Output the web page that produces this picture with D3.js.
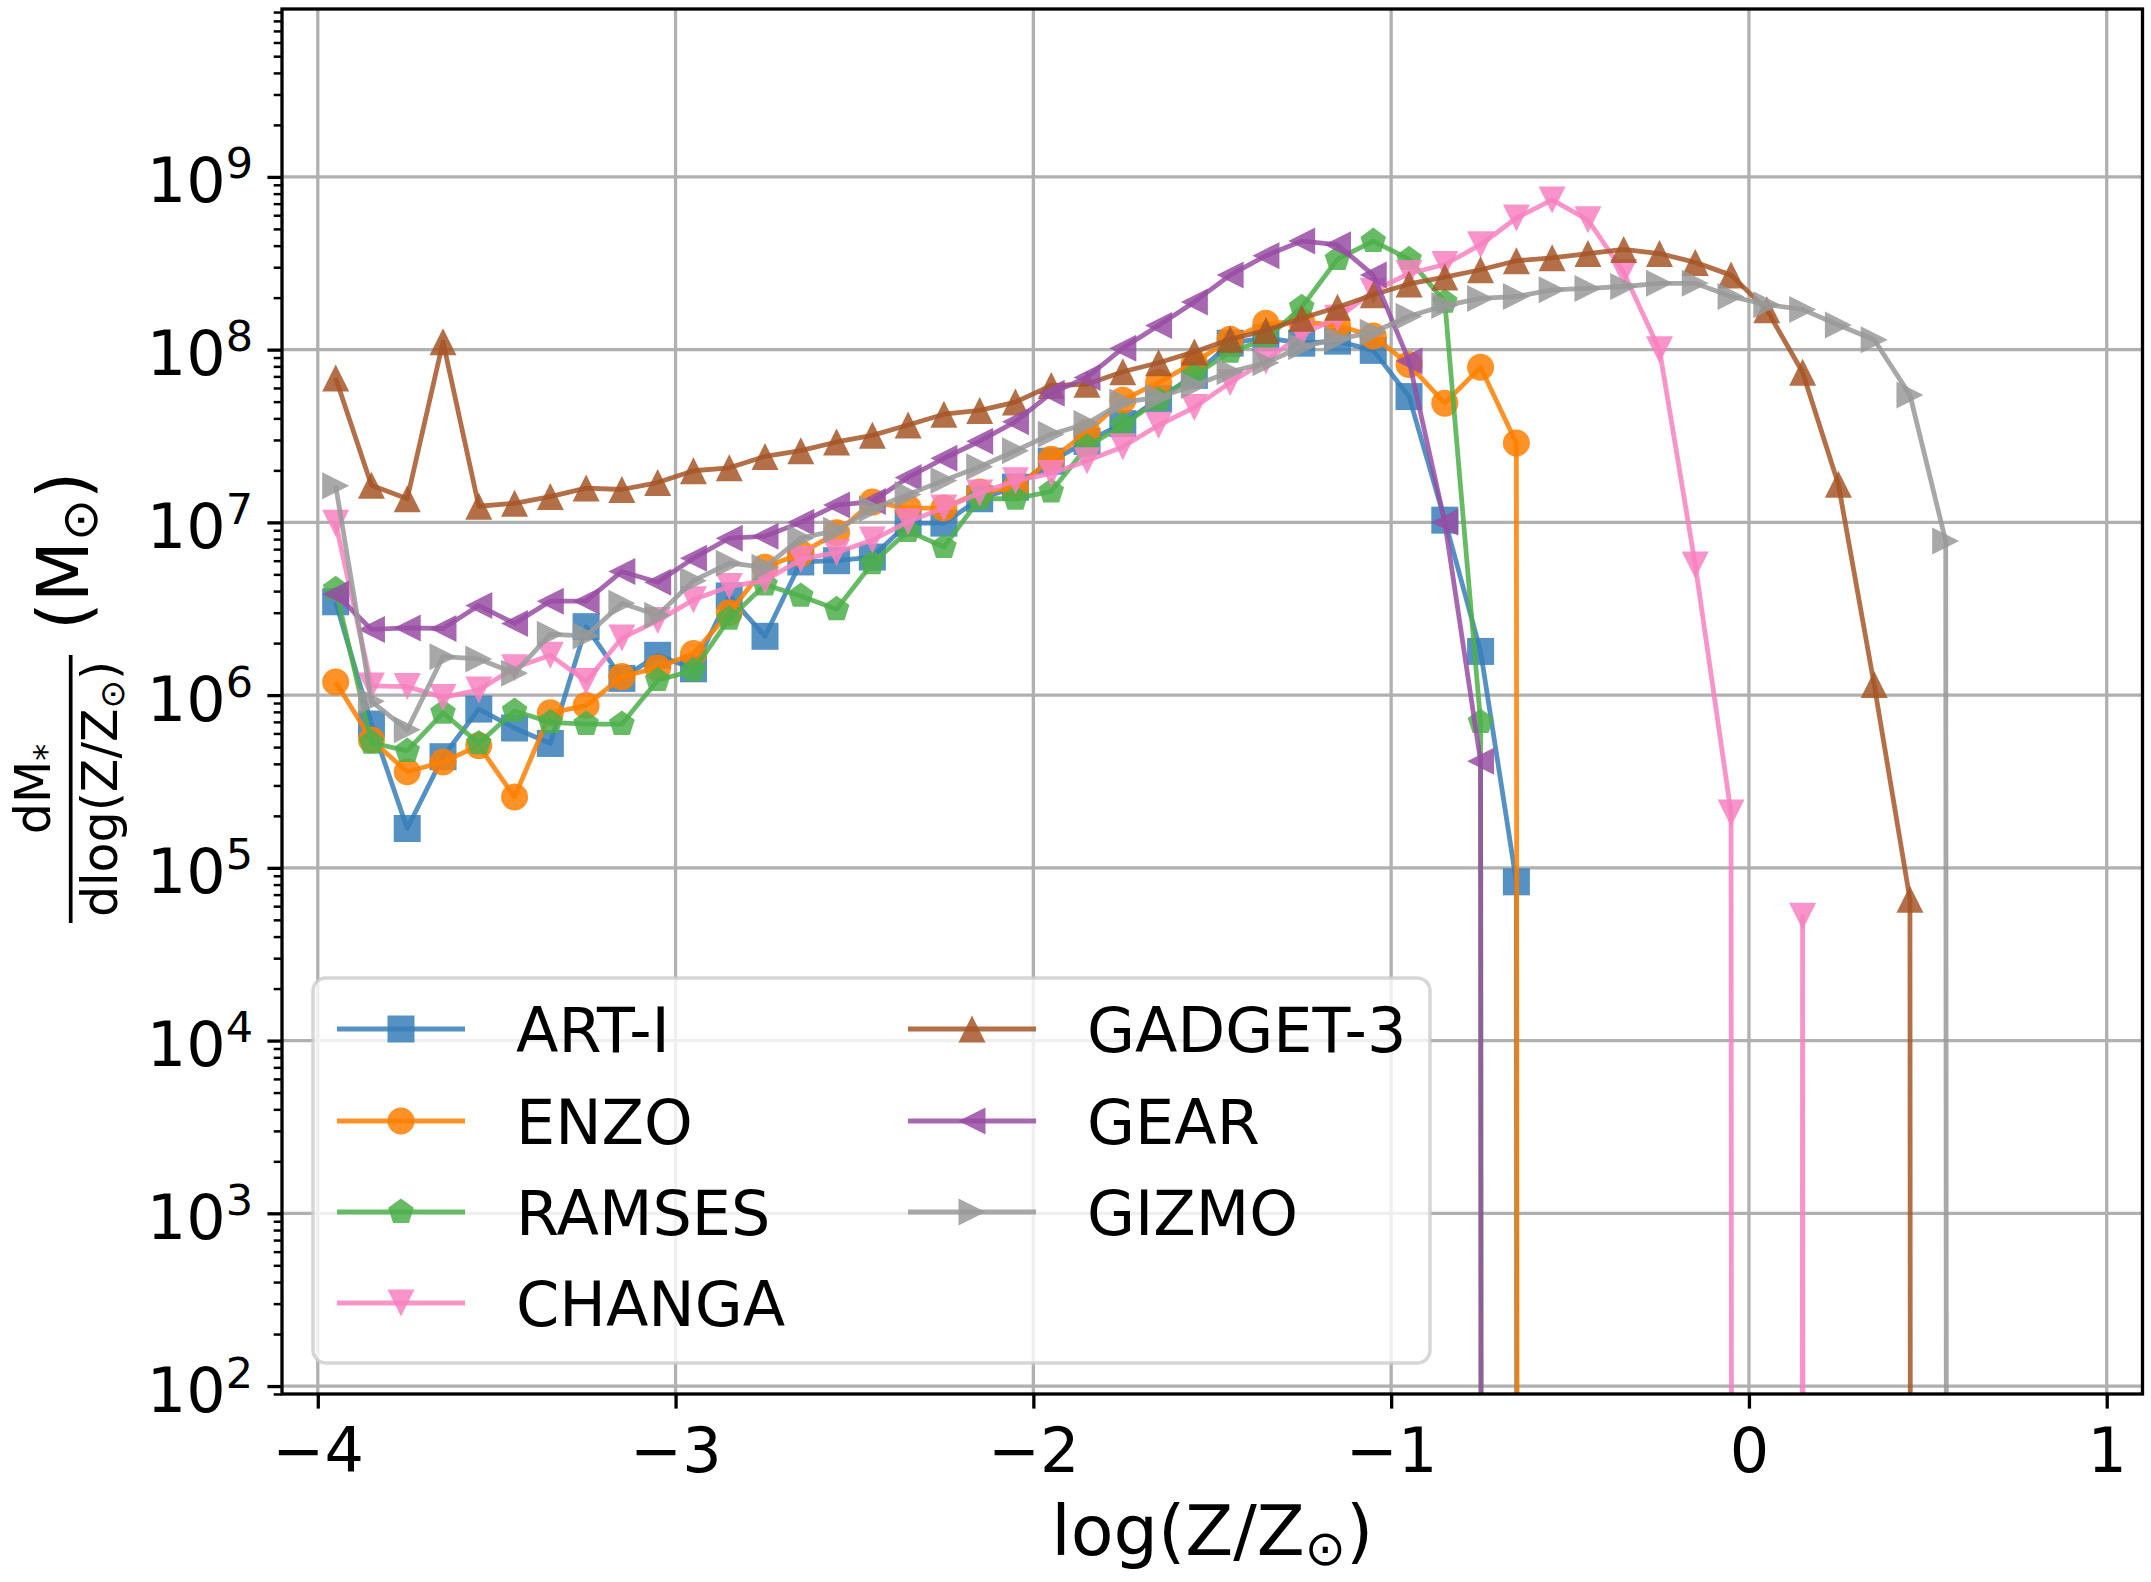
<!DOCTYPE html>
<html>
<head>
<meta charset="utf-8">
<script src="https://cdn.jsdelivr.net/npm/d3@7"></script>
<style>
  html, body { margin: 0; padding: 0; background: #fff; }
  svg { display: block; font-family: "DejaVu Sans", sans-serif; }
</style>
</head>
<body>
<svg id="chart" width="2151" height="1582"></svg>
<script>
// bin centres in log(Z/Zsun)
const logZ = [-3.95, -3.85, -3.75, -3.65, -3.55, -3.45, -3.35, -3.25, -3.15, -3.05,
              -2.95, -2.85, -2.75, -2.65, -2.55, -2.45, -2.35, -2.25, -2.15, -2.05,
              -1.95, -1.85, -1.75, -1.65, -1.55, -1.45, -1.35, -1.25, -1.15, -1.05,
              -0.95, -0.85, -0.75, -0.65, -0.55, -0.45, -0.35, -0.25, -0.15, -0.05,
               0.05,  0.15,  0.25,  0.35,  0.45,  0.55,  0.65];

// dM*/dlog(Z/Zsun) in Msun, 0 = empty bin
const artI = [3.47e6, 6.8e5, 1.69e5, 4.4e5, 8.3e5, 6.45e5, 5.25e5, 2.49e6, 1.25e6, 1.7e6,
              1.42e6, 3.75e6, 2.19e6, 5.9e6, 6.0e6, 6.3e6, 9.9e6, 9.9e6, 1.37e7, 1.6e7,
              2.26e7, 2.94e7, 3.73e7, 5.2e7, 7.1e7, 1.09e8, 1.17e8, 1.09e8, 1.12e8, 9.9e7,
              5.35e7, 1.03e7, 1.79e6, 8.3e4, 0, 0, 0, 0, 0, 0,
              0, 0, 0, 0, 0, 0, 0];
const enzo = [1.19e6, 5.5e5, 3.6e5, 4.1e5, 5.1e5, 2.57e5, 7.9e5, 8.7e5, 1.28e6, 1.44e6,
              1.74e6, 3.0e6, 5.5e6, 6.6e6, 8.7e6, 1.31e7, 1.21e7, 1.21e7, 1.5e7, 1.58e7,
              2.32e7, 3.32e7, 5.1e7, 6.46e7, 8.4e7, 1.15e8, 1.42e8, 1.45e8, 1.38e8, 1.2e8,
              8.2e7, 4.9e7, 7.9e7, 2.88e7, 0, 0, 0, 0, 0, 0,
              0, 0, 0, 0, 0, 0, 0];
const ramses = [4.1e6, 5.3e5, 4.75e5, 7.9e5, 5.25e5, 8.1e5, 6.96e5, 6.8e5, 6.8e5, 1.22e6,
                1.39e6, 2.76e6, 4.36e6, 3.75e6, 3.14e6, 5.8e6, 8.9e6, 7.2e6, 1.37e7, 1.37e7,
                1.51e7, 2.74e7, 3.65e7, 5.1e7, 7.1e7, 9.7e7, 1.15e8, 1.76e8, 3.34e8, 4.25e8,
                3.34e8, 1.89e8, 6.98e5, 0, 0, 0, 0, 0, 0, 0,
                0, 0, 0, 0, 0, 0, 0];
const changa = [9.9e6, 1.13e6, 1.12e6, 9.7e5, 1.07e6, 1.44e6, 1.7e6, 1.2e6, 2.14e6, 2.7e6,
                3.56e6, 4.25e6, 4.6e6, 6.1e6, 6.7e6, 7.9e6, 1.01e7, 1.21e7, 1.48e7, 1.74e7,
                1.92e7, 2.27e7, 2.74e7, 3.65e7, 4.63e7, 6.45e7, 8.6e7, 1.23e8, 1.52e8, 2.18e8,
                2.76e8, 3.11e8, 4.05e8, 5.78e8, 7.36e8, 5.64e8, 2.8e8, 1.0e8, 5.67e6, 2.08e5,
                0, 5.25e4, 0, 0, 0, 0, 0];
const gadget3 = [6.85e7, 1.64e7, 1.37e7, 1.11e8, 1.24e7, 1.29e7, 1.41e7, 1.58e7, 1.55e7, 1.7e7,
                 1.99e7, 2.07e7, 2.41e7, 2.6e7, 2.92e7, 3.19e7, 3.66e7, 4.23e7, 4.45e7, 4.97e7,
                 6.2e7, 6.3e7, 7.45e7, 8.4e7, 9.7e7, 1.15e8, 1.29e8, 1.52e8, 1.76e8, 2.08e8,
                 2.4e8, 2.63e8, 2.9e8, 3.27e8, 3.4e8, 3.6e8, 3.8e8, 3.6e8, 3.2e8, 2.7e8,
                 1.7e8, 7.4e7, 1.66e7, 1.15e6, 6.57e4, 0, 0];
const gear = [3.85e6, 2.4e6, 2.45e6, 2.43e6, 3.3e6, 2.6e6, 3.5e6, 3.5e6, 5.2e6, 4.5e6,
              6.2e6, 8.1e6, 8.3e6, 1.0e7, 1.26e7, 1.32e7, 1.82e7, 2.35e7, 2.95e7, 3.83e7,
              5.6e7, 6.9e7, 1.02e8, 1.38e8, 1.89e8, 2.7e8, 3.5e8, 4.25e8, 4.05e8, 2.7e8,
              8.6e7, 1.0e7, 4.14e5, 0, 0, 0, 0, 0, 0, 0,
              0, 0, 0, 0, 0, 0, 0];
const gizmo = [1.63e7, 9.2e5, 6.3e5, 1.67e6, 1.62e6, 1.34e6, 2.25e6, 2.2e6, 3.4e6, 2.9e6,
               4.6e6, 5.8e6, 5.5e6, 8.1e6, 9.0e6, 1.2e7, 1.45e7, 1.75e7, 2.1e7, 2.6e7,
               3.24e7, 3.73e7, 4.97e7, 5.3e7, 6.2e7, 7.45e7, 8.4e7, 1.04e8, 1.15e8, 1.26e8,
               1.56e8, 1.8e8, 1.98e8, 2.03e8, 2.22e8, 2.26e8, 2.32e8, 2.42e8, 2.42e8, 2.03e8,
               1.82e8, 1.71e8, 1.39e8, 1.14e8, 5.47e7, 7.8e6, 0];

const codes   = ["ART-I", "ENZO", "RAMSES", "CHANGA", "GADGET-3", "GEAR", "GIZMO"];
const values  = [artI, enzo, ramses, changa, gadget3, gear, gizmo];
const colors  = ["#377eb8", "#ff7f00", "#4daf4a", "#f781bf", "#a65628", "#984ea3", "#999999"];
const markers = ["square", "circle", "pentagon", "tridown", "triup", "trileft", "triright"];

const xTicks = [-4, -3, -2, -1, 0, 1];
const yTicks = [1e2, 1e3, 1e4, 1e5, 1e6, 1e7, 1e8, 1e9];

// ---- layout ----
const L = 282, R = 2142.5, T = 9, B = 1394;
const ALPHA = 0.85, LW = 4.8, MS = 27;

const svg = d3.select("#chart");
svg.append("rect").attr("width", 2151).attr("height", 1582).attr("fill", "#fff");

const x = d3.scaleLinear().domain([-4.1, 1.1]).range([L, R]);
const y = d3.scaleLog().domain([Math.pow(10, 1.954), Math.pow(10, 9.972)]).range([B, T]);

svg.append("defs").append("clipPath").attr("id", "clip")
  .append("rect").attr("x", L).attr("y", T).attr("width", R - L).attr("height", B - T);

// grid
const grid = svg.append("g");
grid.selectAll(".gx").data(xTicks).join("line")
  .attr("x1", d => x(d)).attr("x2", d => x(d)).attr("y1", T).attr("y2", B)
  .attr("stroke", "#b0b0b0").attr("stroke-width", 3.3);
grid.selectAll(".gy").data(yTicks).join("line")
  .attr("y1", d => y(d)).attr("y2", d => y(d)).attr("x1", L).attr("x2", R)
  .attr("stroke", "#b0b0b0").attr("stroke-width", 3.3);

function markerPath(type, s) {
  const h = s / 2;
  switch (type) {
    case "square": return `M${-h},${-h}H${h}V${h}H${-h}Z`;
    case "circle": return `M${h},0A${h},${h} 0 1,1 ${-h},0A${h},${h} 0 1,1 ${h},0Z`;
    case "pentagon": {
      const pts = d3.range(5).map(k => {
        const a = -Math.PI / 2 + k * 2 * Math.PI / 5;
        return [h * Math.cos(a), h * Math.sin(a)];
      });
      return "M" + pts.map(p => p.join(",")).join("L") + "Z";
    }
    case "triup":    return `M0,${-h}L${h},${h}L${-h},${h}Z`;
    case "tridown":  return `M0,${h}L${h},${-h}L${-h},${-h}Z`;
    case "trileft":  return `M${-h},0L${h},${-h}L${h},${h}Z`;
    case "triright": return `M${h},0L${-h},${-h}L${-h},${h}Z`;
  }
}

// empty bins sit far below the axis, as a log plot clips them
const line = d3.line()
  .x(d => x(d[0]))
  .y(d => y(d[1] > 0 ? d[1] : 1e-300));

const plot = svg.append("g").attr("clip-path", "url(#clip)");
codes.forEach((name, i) => {
  const pts = logZ.map((v, j) => [v, values[i][j]]);
  const g = plot.append("g");
  g.append("path").datum(pts)
    .attr("d", line)
    .attr("fill", "none")
    .attr("stroke", colors[i])
    .attr("stroke-opacity", ALPHA)
    .attr("stroke-width", LW)
    .attr("stroke-linejoin", "round");
  g.selectAll("path.m").data(pts.filter(d => d[1] > 0)).join("path")
    .attr("class", "m")
    .attr("transform", d => `translate(${x(d[0])},${y(d[1])})`)
    .attr("d", markerPath(markers[i], MS))
    .attr("fill", colors[i])
    .attr("fill-opacity", ALPHA);
});

// axes
const xAxis = svg.append("g").attr("transform", `translate(0,${B})`)
  .call(d3.axisBottom(x).tickValues(xTicks).tickSize(14.6).tickFormat(d3.format("d")));
xAxis.select(".domain").remove();
xAxis.selectAll(".tick line").attr("stroke", "#000").attr("stroke-width", 3.3);
xAxis.selectAll("text").attr("dy", null).attr("y", 78)
  .attr("font-size", 62).attr("font-family", "DejaVu Sans").attr("fill", "#000");

const yMinor = y.ticks().filter(d => !yTicks.includes(d));
const yMin = svg.append("g").attr("transform", `translate(${L},0)`)
  .call(d3.axisLeft(y).tickValues(yMinor).tickSize(8.3).tickFormat(""));
yMin.select(".domain").remove();
yMin.selectAll(".tick line").attr("stroke", "#000").attr("stroke-width", 2.5);

const yMaj = svg.append("g").attr("transform", `translate(${L},0)`)
  .call(d3.axisLeft(y).tickValues(yTicks).tickSize(14.6).tickFormat(""));
yMaj.select(".domain").remove();
yMaj.selectAll(".tick line").attr("stroke", "#000").attr("stroke-width", 3.3);

const yLab = svg.append("g").selectAll("text").data(yTicks).join("text")
  .attr("x", 253).attr("y", d => y(d) + 25.5)
  .attr("text-anchor", "end").attr("font-size", 62);
yLab.append("tspan").text("10");
yLab.append("tspan").attr("font-size", 43).attr("dy", -24).text(d => Math.round(Math.log10(d)));

// spines
svg.append("rect").attr("x", L).attr("y", T).attr("width", R - L).attr("height", B - T)
  .attr("fill", "none").attr("stroke", "#000").attr("stroke-width", 3.3);

// x label
const xl = svg.append("text").attr("x", (L + R) / 2).attr("y", 1555)
  .attr("text-anchor", "middle").attr("font-size", 70);
xl.append("tspan").text("log(Z/Z");
xl.append("tspan").attr("font-size", 49).attr("dy", 10).text("\u2299");
xl.append("tspan").attr("dy", -10).text(")");

// y label: dM*/dlog(Z/Zsun) (Msun)
const yl = svg.append("g").attr("transform", "translate(0,702) rotate(-90)");
yl.append("line").attr("x1", -221).attr("x2", 47).attr("y1", 70.7).attr("y2", 70.7)
  .attr("stroke", "#000").attr("stroke-width", 3.7);
const num = yl.append("text").attr("x", -87).attr("y", 50)
  .attr("text-anchor", "middle").attr("font-size", 49);
num.append("tspan").text("dM");
num.append("tspan").attr("font-size", 34).attr("dy", 8).text("*");
const den = yl.append("text").attr("x", -87).attr("y", 116.7)
  .attr("text-anchor", "middle").attr("font-size", 49);
den.append("tspan").text("dlog(Z/Z");
den.append("tspan").attr("font-size", 34).attr("dy", 7).text("\u2299");
den.append("tspan").attr("dy", -7).text(")");
const unit = yl.append("text").attr("x", 72).attr("y", 88.3).attr("font-size", 71);
unit.append("tspan").text("(M");
unit.append("tspan").attr("font-size", 50).attr("dy", 9).text("\u2299");
unit.append("tspan").attr("dy", -9).text(")");

// legend
const leg = svg.append("g");
leg.append("rect").attr("x", 313).attr("y", 978).attr("width", 1117).attr("height", 385)
  .attr("rx", 13).attr("fill", "#fff").attr("fill-opacity", 0.8)
  .attr("stroke", "#cccccc").attr("stroke-opacity", 0.8).attr("stroke-width", 3.5);
const rowY = [1029, 1121, 1212, 1303];
const colX = [337, 908];
codes.forEach((name, i) => {
  const c = i < 4 ? 0 : 1, r = i < 4 ? i : i - 4;
  const x0 = colX[c], yc = rowY[r];
  const e = leg.append("g");
  e.append("line").attr("x1", x0).attr("x2", x0 + 128).attr("y1", yc).attr("y2", yc)
    .attr("stroke", colors[i]).attr("stroke-opacity", ALPHA).attr("stroke-width", LW);
  e.append("path").attr("transform", `translate(${x0 + 64},${yc})`)
    .attr("d", markerPath(markers[i], MS))
    .attr("fill", colors[i]).attr("fill-opacity", ALPHA);
  e.append("text").attr("x", x0 + 179).attr("y", yc + 23)
    .attr("font-size", 62).text(name);
});
</script>
</body>
</html>
